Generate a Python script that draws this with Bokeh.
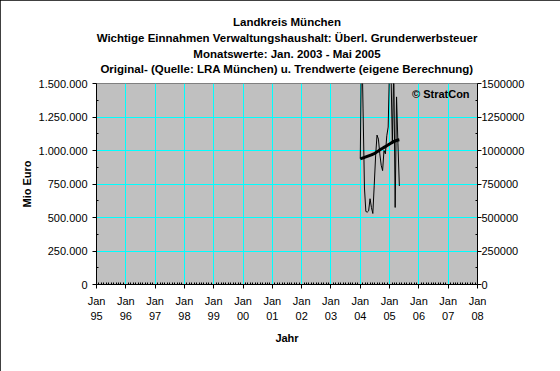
import numpy as np
from bokeh.plotting import figure
from bokeh.models import Range1d, LinearAxis, FixedTicker, Label, Title
from bokeh.embed import file_html
from bokeh.resources import INLINE

# ---------------- data ----------------
months = ["2003-01", "2003-02", "2003-03", "2003-04", "2003-05", "2003-06",
          "2003-07", "2003-08", "2003-09", "2003-10", "2003-11", "2003-12",
          "2004-01", "2004-02", "2004-03", "2004-04", "2004-05", "2004-06",
          "2004-07", "2004-08", "2004-09", "2004-10", "2004-11", "2004-12",
          "2005-01", "2005-02", "2005-03", "2005-04", "2005-05"]
original = [938000, 1900000, 1310000, 720000, 545000, 540000, 550000, 640000,
            575000, 530000, 740000, 960000, 1115000, 1085000, 975000, 890000,
            850000, 1000000, 975000, 1110000, 1175000, 1650000, 1600000,
            1050000, 1620000, 575000, 1400000, 1050000, 735000]
trend = [938000, 941000, 945000, 948000, 952000, 956000, 960000, 964000,
         968000, 972000, 977000, 983000, 990000, 997000, 1005000, 1011000,
         1017000, 1023000, 1029000, 1035000, 1042000, 1048000, 1055000,
         1061000, 1067000, 1071000, 1075000, 1078000, 1080000]

# the source chart draws the monthly series between these axis dates
plotted_start = 2004.0
plotted_end = 2005 + 4 / 12

year_ticks = list(range(1995, 2009))
year_labels = {y: "Jan\n%02d" % (y % 100) for y in year_ticks}
value_ticks = [0, 250000, 500000, 750000, 1000000, 1250000, 1500000]
left_labels = {v: ("{:,}".format(v)).replace(",", ".") for v in value_ticks}
right_labels = {v: str(v) for v in value_ticks}

title_lines = ["Landkreis München",
               "Wichtige Einnahmen Verwaltungshaushalt: Überl. Grunderwerbsteuer",
               "Monatswerte: Jan. 2003 - Mai 2005",
               "Original- (Quelle: LRA München) u. Trendwerte (eigene Berechnung)"]

xs = np.linspace(plotted_start, plotted_end, len(months))

FONT = "Liberation Sans"

p = figure(frame_width=381, frame_height=201,
           min_border_left=96, min_border_right=83,
           min_border_top=83, min_border_bottom=87,
           x_range=Range1d(1995, 2008), y_range=Range1d(0, 1500000),
           output_backend="svg", toolbar_location=None,
           background_fill_color="#C0C0C0", border_fill_color="white",
           outline_line_color="#808080",
           styles={"outline": "1px solid black", "outline-offset": "-1px"})

minor_x = [y + m / 12 for y in range(1995, 2008) for m in range(1, 12)]
minor_y = [v + 125000 for v in value_ticks[:-1]]

# x axis
xa = p.xaxis[0]
xa.ticker = FixedTicker(ticks=year_ticks, minor_ticks=minor_x)
xa.major_label_overrides = year_labels
xa.axis_label = "Jahr"

# left axis
ya = p.yaxis[0]
ya.ticker = FixedTicker(ticks=value_ticks, minor_ticks=minor_y)
ya.major_label_overrides = left_labels
ya.axis_label = "Mio Euro"

# right axis
ra = LinearAxis(ticker=FixedTicker(ticks=value_ticks, minor_ticks=minor_y))
ra.major_label_overrides = right_labels
p.add_layout(ra, "right")

for ax in [xa, ya, ra]:
    ax.axis_line_color = "black"
    ax.axis_line_width = 1
    ax.major_tick_line_color = "black"
    ax.minor_tick_line_color = "black"
    ax.major_tick_in = 0
    ax.major_tick_out = 4
    ax.minor_tick_in = 2
    ax.minor_tick_out = 0
    ax.major_label_text_font = FONT
    ax.major_label_text_font_size = "11px"
    ax.major_label_text_color = "black"
    ax.axis_label_text_font = FONT
    ax.axis_label_text_font_size = "11px"
    ax.axis_label_text_font_style = "bold"
    ax.axis_label_text_color = "black"

xa.major_label_text_line_height = 1.27
xa.major_label_standoff = 6
xa.axis_label_standoff = 7
ya.major_label_standoff = 5
ya.axis_label_standoff = 3
ra.major_label_standoff = 0

p.xgrid.ticker = FixedTicker(ticks=year_ticks)
p.ygrid.ticker = FixedTicker(ticks=value_ticks)
for g in [p.xgrid[0], p.ygrid[0]]:
    g.grid_line_color = "#00FFFF"
    g.grid_line_width = 1

p.line(xs, original, line_color="black", line_width=1)
p.line(xs, trend, line_color="black", line_width=3)

p.add_layout(Label(x=2007.73, y=1418000, text="© StratCon",
                   text_font=FONT, text_font_size="11px",
                   text_font_style="bold", text_align="right",
                   text_baseline="middle", text_color="black"))

# small empty spacer between the plot area and the title block
p.add_layout(Title(text=" ", text_font_size="1px", standoff=5), "above")
# title lines: the first one added sits nearest to the plot area
for i, t in enumerate(reversed(title_lines)):
    p.add_layout(Title(text=t, align="center", text_font=FONT,
                       text_font_size="11.5px", text_font_style="bold",
                       text_color="black", standoff=1 if i == 0 else 2),
                 "above")

open("out.html", "w").write(file_html(p, INLINE))
